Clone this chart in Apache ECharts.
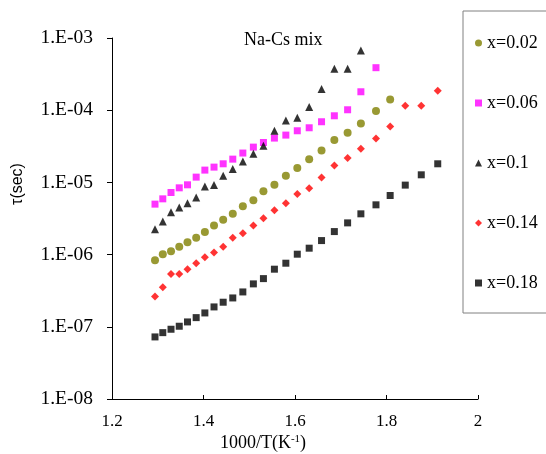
<!DOCTYPE html>
<html><head><meta charset="utf-8">
<script src="https://cdn.jsdelivr.net/npm/echarts@6/dist/echarts.min.js"></script>
<style>html,body{margin:0;padding:0;background:#fff}#c{width:546px;height:454px}</style>
</head><body><div id="c"></div>
<script>
const xVals = [1.294,1.311,1.329,1.347,1.365,1.384,1.403,1.423,1.443,1.464,1.486,1.509,1.531,1.555,1.580,1.605,1.631,1.658,1.686,1.715,1.744,1.777,1.808,1.841,1.876,1.912];
const seriesNames = ['x=0.02','x=0.06','x=0.1','x=0.14','x=0.18'];
const y002 = [8.37e-7,1.013e-6,1.115e-6,1.28e-6,1.487e-6,1.706e-6,2.064e-6,2.526e-6,3.03e-6,3.67e-6,4.66e-6,5.64e-6,7.57e-6,9.26e-6,1.234e-5,1.578e-5,2.09e-5,2.77e-5,3.87e-5,4.87e-5,6.55e-5,9.73e-5,1.409e-4];
const y006 = [5.0e-6,5.92e-6,7.24e-6,8.41e-6,9.26e-6,1.183e-5,1.48e-5,1.628e-5,1.81e-5,2.10e-5,2.55e-5,3.08e-5,3.57e-5,4.11e-5,4.52e-5,5.19e-5,5.71e-5,6.92e-5,8.37e-5,1.014e-4,1.80e-4,3.88e-4];
const y010 = [2.25e-6,2.87e-6,3.87e-6,4.48e-6,5.16e-6,6.17e-6,8.77e-6,9.17e-6,1.234e-5,1.528e-5,1.948e-5,2.49e-5,3.21e-5,5.19e-5,7.21e-5,7.86e-5,1.105e-4,1.96e-4,3.75e-4,3.75e-4,6.73e-4];
const y014 = [2.62e-7,3.54e-7,5.40e-7,5.40e-7,6.28e-7,7.60e-7,9.21e-7,1.067e-6,1.28e-6,1.706e-6,1.98e-6,2.526e-6,3.20e-6,4.10e-6,5.16e-6,6.90e-6,8.33e-6,1.165e-5,1.714e-5,2.17e-5,2.92e-5,4.07e-5,5.95e-5,1.152e-4,1.152e-4,1.86e-4];
const y018 = [7.24e-8,8.30e-8,9.25e-8,1.018e-7,1.168e-7,1.34e-7,1.556e-7,1.885e-7,2.19e-7,2.51e-7,3.04e-7,3.93e-7,4.65e-7,6.28e-7,7.60e-7,1.013e-6,1.227e-6,1.564e-6,2.084e-6,2.75e-6,3.67e-6,4.89e-6,6.58e-6,9.17e-6,1.274e-5,1.81e-5];
const titleText = 'Na-Cs mix';
const yName = 'τ(sec)';

const pair = ys => ys.map((v, i) => [xVals[i], v]);
const serif = '"Liberation Serif", "Times New Roman", serif';

const chart = echarts.init(document.getElementById('c'), null, {renderer: 'canvas'});
const mk = (name, ys, symbol, size, color) => ({
  name, type: 'scatter', data: pair(ys), symbol, symbolSize: size,
  itemStyle: {color}, emphasis: {disabled: true}
});
chart.setOption({
  animation: false,
  backgroundColor: '#fff',
  grid: {left: 112, right: 68, top: 38, bottom: 55},
  title: {text: titleText, left: 244, top: 31, padding: 0,
    textStyle: {fontFamily: serif, fontSize: 18, fontWeight: 'normal', color: '#000'}},
  legend: {
    orient: 'vertical', left: 463, top: 11,
    padding: [23, 60, 21, 12],
    itemGap: 42, itemWidth: 7, itemHeight: 7,
    borderColor: '#808080', borderWidth: 1,
    textStyle: {fontFamily: serif, fontSize: 18, color: '#000'},
    data: seriesNames
  },
  xAxis: {
    type: 'value', min: 1.2, max: 2, interval: 0.2,
    axisLine: {lineStyle: {color: '#000', width: 1}},
    axisTick: {inside: true, length: 4, lineStyle: {color: '#000'}},
    axisLabel: {fontFamily: serif, fontSize: 17, color: '#000', margin: 14},
    splitLine: {show: false}
  },
  yAxis: {
    type: 'log', logBase: 10, min: 1e-8, max: 1e-3,
    axisLine: {show: true, lineStyle: {color: '#000', width: 1}},
    axisTick: {show: true, inside: false, length: 5, lineStyle: {color: '#000'}},
    minorTick: {show: false},
    axisLabel: {fontFamily: serif, fontSize: 19.5, color: '#000', margin: 19,
      formatter: v => { const e = Math.round(Math.log10(v)); return '1.E' + (e < 0 ? '-' : '+') + String(Math.abs(e)).padStart(2, '0'); }},
    splitLine: {show: false}
  },
  graphic: [
    {type: 'text', x: 18, y: 184, rotation: Math.PI / 2,
      style: {text: yName, fontFamily: '"Liberation Sans", Arial, sans-serif', fontSize: 16, fill: '#000', align: 'center', verticalAlign: 'middle'}},
    {type: 'text', x: 263, y: 443,
      style: {text: '1000/T(K{sup|-1})', fontFamily: serif, fontSize: 18, fill: '#000', align: 'center', verticalAlign: 'middle',
        rich: {sup: {fontFamily: serif, fontSize: 11, fill: '#000', verticalAlign: 'top', padding: [0, 0, 8, 0]}}}}
  ],
  series: [
    mk(seriesNames[0], y002, 'circle', 8, '#808000'),
    mk(seriesNames[1], y006, 'rect', 7, '#FF00FF'),
    mk(seriesNames[2], y010, 'triangle', 8, '#000000'),
    mk(seriesNames[3], y014, 'diamond', 8, '#FF0000'),
    mk(seriesNames[4], y018, 'rect', 7, '#000000')
  ]
});
</script></body></html>
